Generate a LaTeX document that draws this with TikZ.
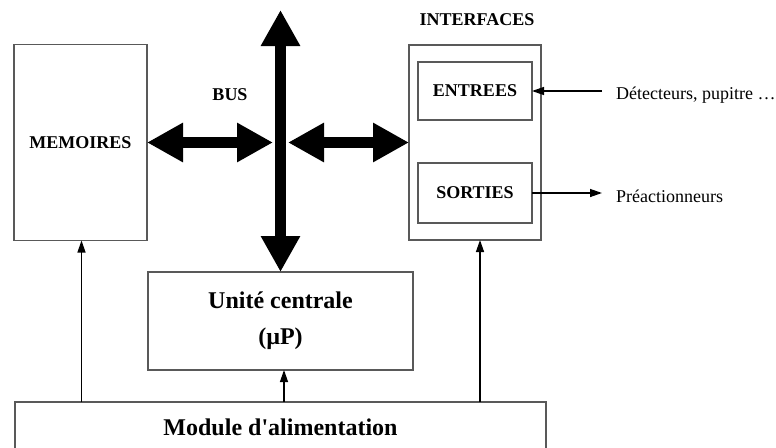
\documentclass[tikz,border=0pt]{standalone}
\usepackage{fontspec}
\setmainfont{Liberation Serif}
\usetikzlibrary{arrows.meta}

\begin{document}
\begin{tikzpicture}[x=1pt,y=-1pt,
  blk/.style={draw=black!65,line width=1.3pt,inner sep=0pt,outer sep=0pt},
  lbl/.style={font=\bfseries\fontsize{18}{21}\selectfont},
  big/.style={font=\bfseries\fontsize{24}{36}\selectfont,align=center},
  txt/.style={font=\fontsize{18}{21}\selectfont,anchor=west,inner xsep=14pt,inner ysep=0pt},
  bus/.style={line width=11pt,{Triangle[length=36pt,width=37pt]}-{Triangle[length=36pt,width=37pt]}},
  pwr/.style={line width=1.3pt,-{Triangle[length=12pt,width=8pt]}}]
\useasboundingbox (0,0) rectangle (776,447);
% blocs
\node[blk,lbl,minimum width=133pt,minimum height=196pt] (mem) at (80.5,142.5) {MEMOIRES};
\node[blk,minimum width=132pt,minimum height=195pt] (interf) at (475,142.5) {};
\node[lbl] (interflbl) at (477,20) {INTERFACES};
\node[blk,lbl,minimum width=114pt,minimum height=58pt,text depth=-5pt] (entrees) at (475,91) {ENTREES};
\node[blk,lbl,minimum width=114pt,minimum height=60pt,text depth=-5pt] (sorties) at (475,193) {SORTIES};
\node[blk,big,minimum width=265pt,minimum height=98pt] (uc) at (280.5,321) {Unité centrale\\(µP)};
\node[blk,big,minimum width=531pt,minimum height=50pt] (alim) at (280.5,427) {Module d\textquotesingle alimentation};
\node[lbl] (buslbl) at (230,95) {BUS};
% bus
\coordinate (bustop) at (280.5,10);
\coordinate (busl) at (273,142.5);
\coordinate (busr) at (288,142.5);
\draw[bus] (bustop) -- (uc.north);
\draw[bus] (mem.east) -- (busl);
\draw[bus] (busr) -- (interf.west);
% alimentation
\draw[pwr] ([xshift=1pt]alim.north -| mem) -- ([xshift=1pt]mem.south);
\draw[pwr] ([xshift=3.5pt]alim.north -| uc) -- ([xshift=3.5pt]uc.south);
\draw[pwr] ([xshift=5pt]alim.north -| interf) -- ([xshift=5pt]interf.south);
% entrees / sorties
\node[txt] (det) at (602,95) {Détecteurs, pupitre …};
\node[txt] (preact) at (602,196) {Préactionneurs};
\draw[pwr] (det.west |- entrees.east) -- (entrees.east);
\draw[pwr] (sorties.east) -- (sorties.east -| preact.west);
\end{tikzpicture}
\end{document}
